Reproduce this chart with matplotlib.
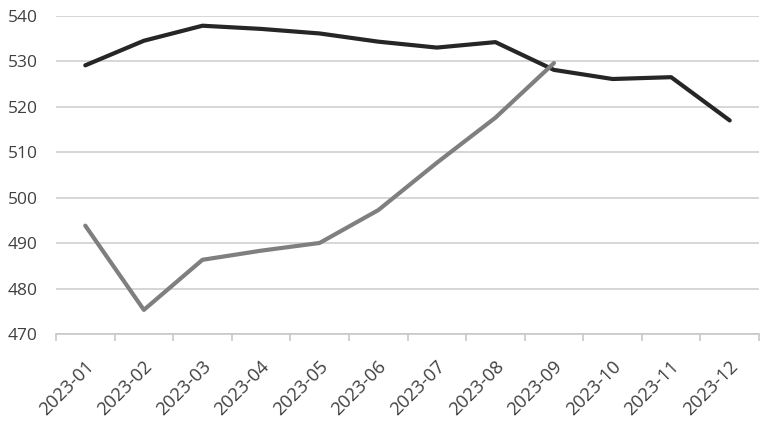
import matplotlib.pyplot as plt
import matplotlib.transforms as mtransforms
import numpy as np

# data
months = ['2023-01', '2023-02', '2023-03', '2023-04', '2023-05', '2023-06',
          '2023-07', '2023-08', '2023-09', '2023-10', '2023-11', '2023-12']
dark_series = [529.1, 534.5, 537.8, 537.1, 536.1, 534.3, 533.0, 534.2, 528.1, 526.1, 526.5, 517.0]
gray_series = [493.9, 475.4, 486.4, 488.4, 490.1, 497.3, 507.7, 517.6, 529.6]
y_ticks = [470, 480, 490, 500, 510, 520, 530, 540]

plt.rcParams['font.family'] = ['Open Sans', 'DejaVu Sans']

fig = plt.figure(figsize=(7.67, 4.21), dpi=100)
ax = fig.add_axes([0.073, 0.2055, 0.9166, 0.7572])

x = np.arange(len(months))
ax.plot(x, dark_series, color='#262626', linewidth=3.0, solid_capstyle='round', zorder=3)
ax.plot(x[:len(gray_series)], gray_series, color='#7f7f7f', linewidth=3.0,
        solid_capstyle='round', zorder=4)

ax.set_ylim(470, 540)
ax.set_xlim(-0.5, len(months) - 0.5)
ax.set_yticks(y_ticks)
ax.yaxis.grid(True, color='#d0d0d0', linewidth=1.2)
ax.set_axisbelow(True)

# tick marks on category boundaries, labels at category centres
ax.set_xticks(np.arange(-0.5, len(months), 1.0))
ax.set_xticklabels([])
ax.set_xticks(x, minor=True)
ax.set_xticklabels(months, minor=True, rotation=45, ha='right', va='center',
                   rotation_mode='anchor', fontsize=13.2, color='#404040')
ax.tick_params(axis='x', which='major', length=5, color='#c8c8c8', width=1.2)
ax.tick_params(axis='x', which='minor', length=0, pad=21)
ax.tick_params(axis='y', length=0, labelsize=12.5, labelcolor='#404040', pad=13)

# nudge x labels a little to the right, as in the reference
shift = mtransforms.ScaledTranslation(4 / 72, 0, fig.dpi_scale_trans)
for lbl in ax.get_xticklabels(minor=True):
    lbl.set_transform(lbl.get_transform() + shift)

for side in ['top', 'right', 'left']:
    ax.spines[side].set_visible(False)
ax.spines['bottom'].set_color('#c8c8c8')
ax.spines['bottom'].set_linewidth(1.2)

fig.savefig('out.png', dpi=100)
